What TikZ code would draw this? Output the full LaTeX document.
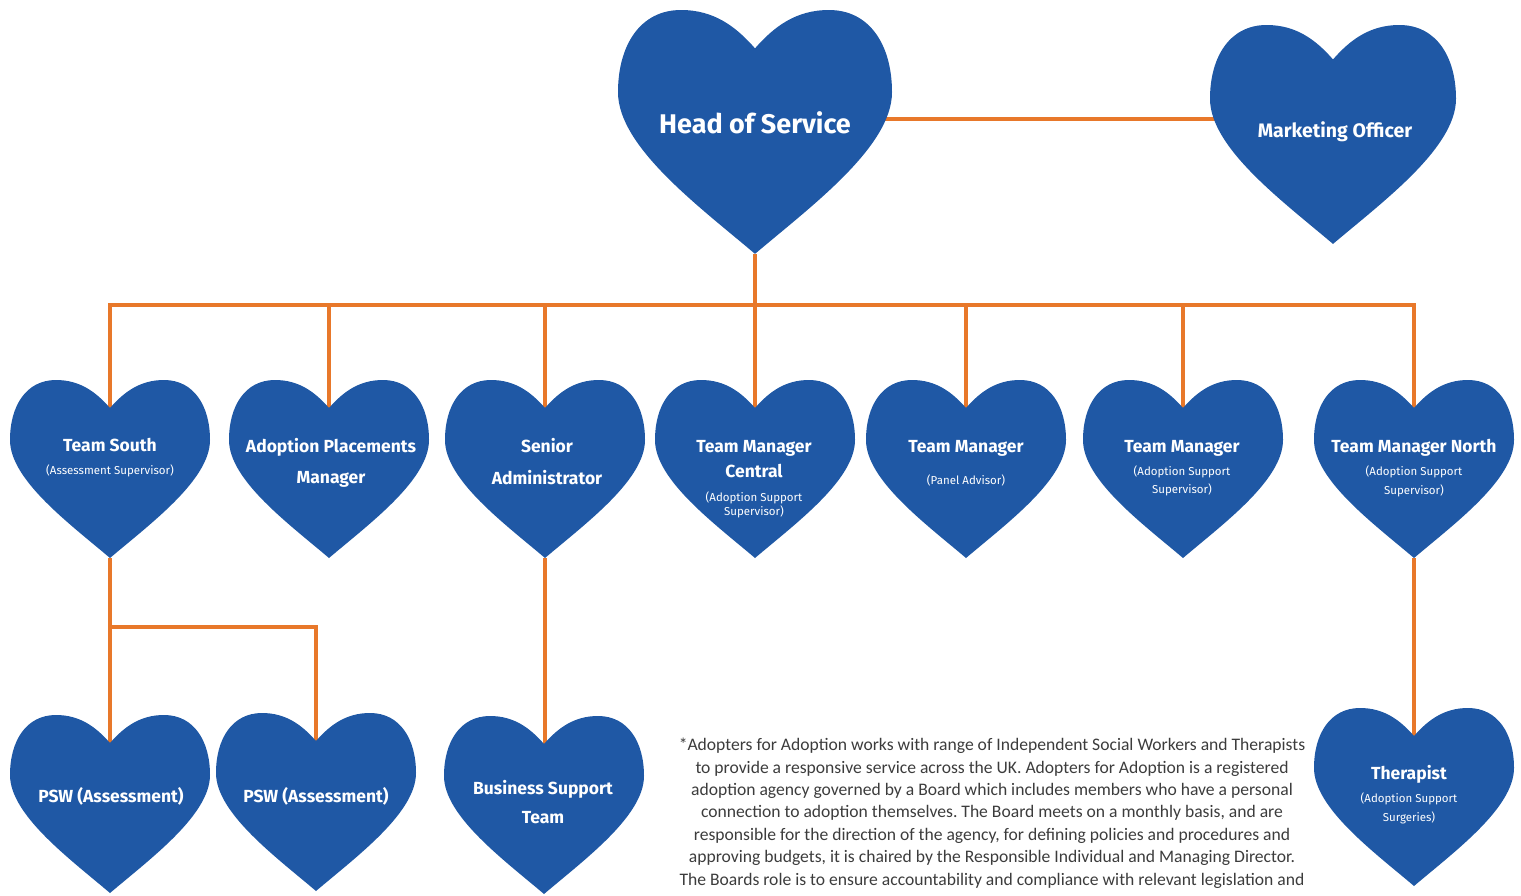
\documentclass[tikz,border=0pt]{standalone}
\usepackage{fontspec}
\newfontfamily\hf{Fira Sans}
\newfontfamily\nf{Carlito}
\usetikzlibrary{calc}
\frenchspacing
\definecolor{hblue}{HTML}{1F58A5}
\definecolor{lorange}{HTML}{E8782A}
\definecolor{ntext}{HTML}{3C3C3C}
\pgfdeclarelayer{bg}
\pgfsetlayers{bg,main}
\tikzset{
  pics/heart/.style={code={
    \begin{scope}[scale=#1]
      \fill[hblue] (0,0.14) .. controls (0.07,0.06) and (0.15,0) .. (0.27,0)
        .. controls (0.42,0) and (0.5,0.13) .. (0.5,0.3)
        .. controls (0.5,0.5) and (0.2,0.72) .. (0,0.89)
        .. controls (-0.2,0.72) and (-0.5,0.5) .. (-0.5,0.3)
        .. controls (-0.5,0.13) and (-0.42,0) .. (-0.27,0)
        .. controls (-0.15,0) and (-0.07,0.06) .. (0,0.14) -- cycle;
      \coordinate (-notch) at (0,0.14);
      \coordinate (-tip) at (0,0.89);
    \end{scope}
  }},
  conn/.style={draw=lorange, line width=4pt},
  htitle/.style={text=white, anchor=base, inner sep=0pt, font=\hf\bfseries\fontsize{17.5}{20}\selectfont},
  hsub/.style={text=white, anchor=base, inner sep=0pt, font=\hf\fontsize{11.5}{14}\selectfont},
}
\begin{document}
\begin{tikzpicture}[x=1pt,y=-1pt]
\useasboundingbox (0,0) rectangle (1521,895);
% hearts
\pic (hos) at (755,10) {heart=274};
\pic (mo) at (1333,25) {heart=246};
\pic (ts) at (110,380) {heart=200};
\pic (apm) at (329,380) {heart=200};
\pic (sa) at (545,380) {heart=200};
\pic (tmc) at (755,380) {heart=200};
\pic (tmp) at (966,380) {heart=200};
\pic (tma) at (1183,380) {heart=200};
\pic (tmn) at (1414,380) {heart=200};
\pic (psw1) at (110,715) {heart=200};
\pic (psw2) at (316,713) {heart=200};
\pic (bst) at (544,716) {heart=200};
\pic (th) at (1414,708) {heart=200};
% helper levels
\coordinate (hm) at (0,119);
\coordinate (bus) at (0,305);
\coordinate (br) at (0,627);
\begin{pgfonlayer}{bg}
\draw[conn] (hos-tip |- hm) -- (mo-tip |- hm);
\draw[conn] (ts-notch) -- (ts-notch |- bus) -- (tmn-notch |- bus) -- (tmn-notch);
\draw[conn] (hos-tip) -- (hos-tip |- bus);
\foreach \h in {apm,sa,tmc,tmp,tma}{\draw[conn] (\h-notch) -- (\h-notch |- bus);}
\draw[conn] (ts-tip) -- (psw1-notch);
\draw[conn] (ts-tip |- br) -- (psw2-notch |- br) -- (psw2-notch);
\draw[conn] (sa-tip) -- (sa-tip |- bst-notch);
\draw[conn] (tmn-tip) -- (th-notch);
\end{pgfonlayer}
% texts
\node[htitle, font=\hf\bfseries\fontsize{27}{30}\selectfont] (hos-t) at (755,133) {Head of Service};
\node[htitle, font=\hf\bfseries\fontsize{19.5}{24}\selectfont] (mo-t) at (1335,137) {Marketing Officer};
\node[htitle] (ts-t) at (110,451) {Team South};
\node[hsub] (ts-s) at (110,474) {(Assessment Supervisor)};
\node[htitle] (apm-t1) at (331,452) {Adoption Placements};
\node[htitle] (apm-t2) at (331,483) {Manager};
\node[htitle] (sa-t1) at (547,452) {Senior};
\node[htitle] (sa-t2) at (547,484) {Administrator};
\node[htitle] (tmc-t1) at (754,452) {Team Manager};
\node[htitle] (tmc-t2) at (754,477) {Central};
\node[hsub] (tmc-s1) at (754,501) {(Adoption Support};
\node[hsub] (tmc-s2) at (754,515) {Supervisor)};
\node[htitle] (tmp-t) at (966,452) {Team Manager};
\node[hsub] (tmp-s) at (966,484) {(Panel Advisor)};
\node[htitle] (tma-t) at (1182,452) {Team Manager};
\node[hsub] (tma-s1) at (1182,475) {(Adoption Support};
\node[hsub] (tma-s2) at (1182,493) {Supervisor)};
\node[htitle] (tmn-t) at (1414,452) {Team Manager North};
\node[hsub] (tmn-s1) at (1414,475) {(Adoption Support};
\node[hsub] (tmn-s2) at (1414,494) {Supervisor)};
\node[htitle] (psw1-t) at (111,802) {PSW (Assessment)};
\node[htitle] (psw2-t) at (316,802) {PSW (Assessment)};
\node[htitle] (bst-t1) at (543,794) {Business Support};
\node[htitle] (bst-t2) at (543,823) {Team};
\node[htitle] (th-t) at (1409,779) {Therapist};
\node[hsub] (th-s1) at (1409,802) {(Adoption Support};
\node[hsub] (th-s2) at (1409,821) {Surgeries)};
\node[anchor=north, inner sep=0pt, align=center, text=ntext, font=\nf\fontsize{17.6}{22.4}\selectfont] (note) at (992,738)
{*Adopters for Adoption works with range of Independent Social Workers and Therapists\\
to provide a responsive service across the UK. Adopters for Adoption is a registered\\
adoption agency governed by a Board which includes members who have a personal\\
connection to adoption themselves. The Board meets on a monthly basis, and are\\
responsible for the direction of the agency, for defining policies and procedures and\\
approving budgets, it is chaired by the Responsible Individual and Managing Director.\\
The Boards role is to ensure accountability and compliance with relevant legislation and};
\end{tikzpicture}
\end{document}
